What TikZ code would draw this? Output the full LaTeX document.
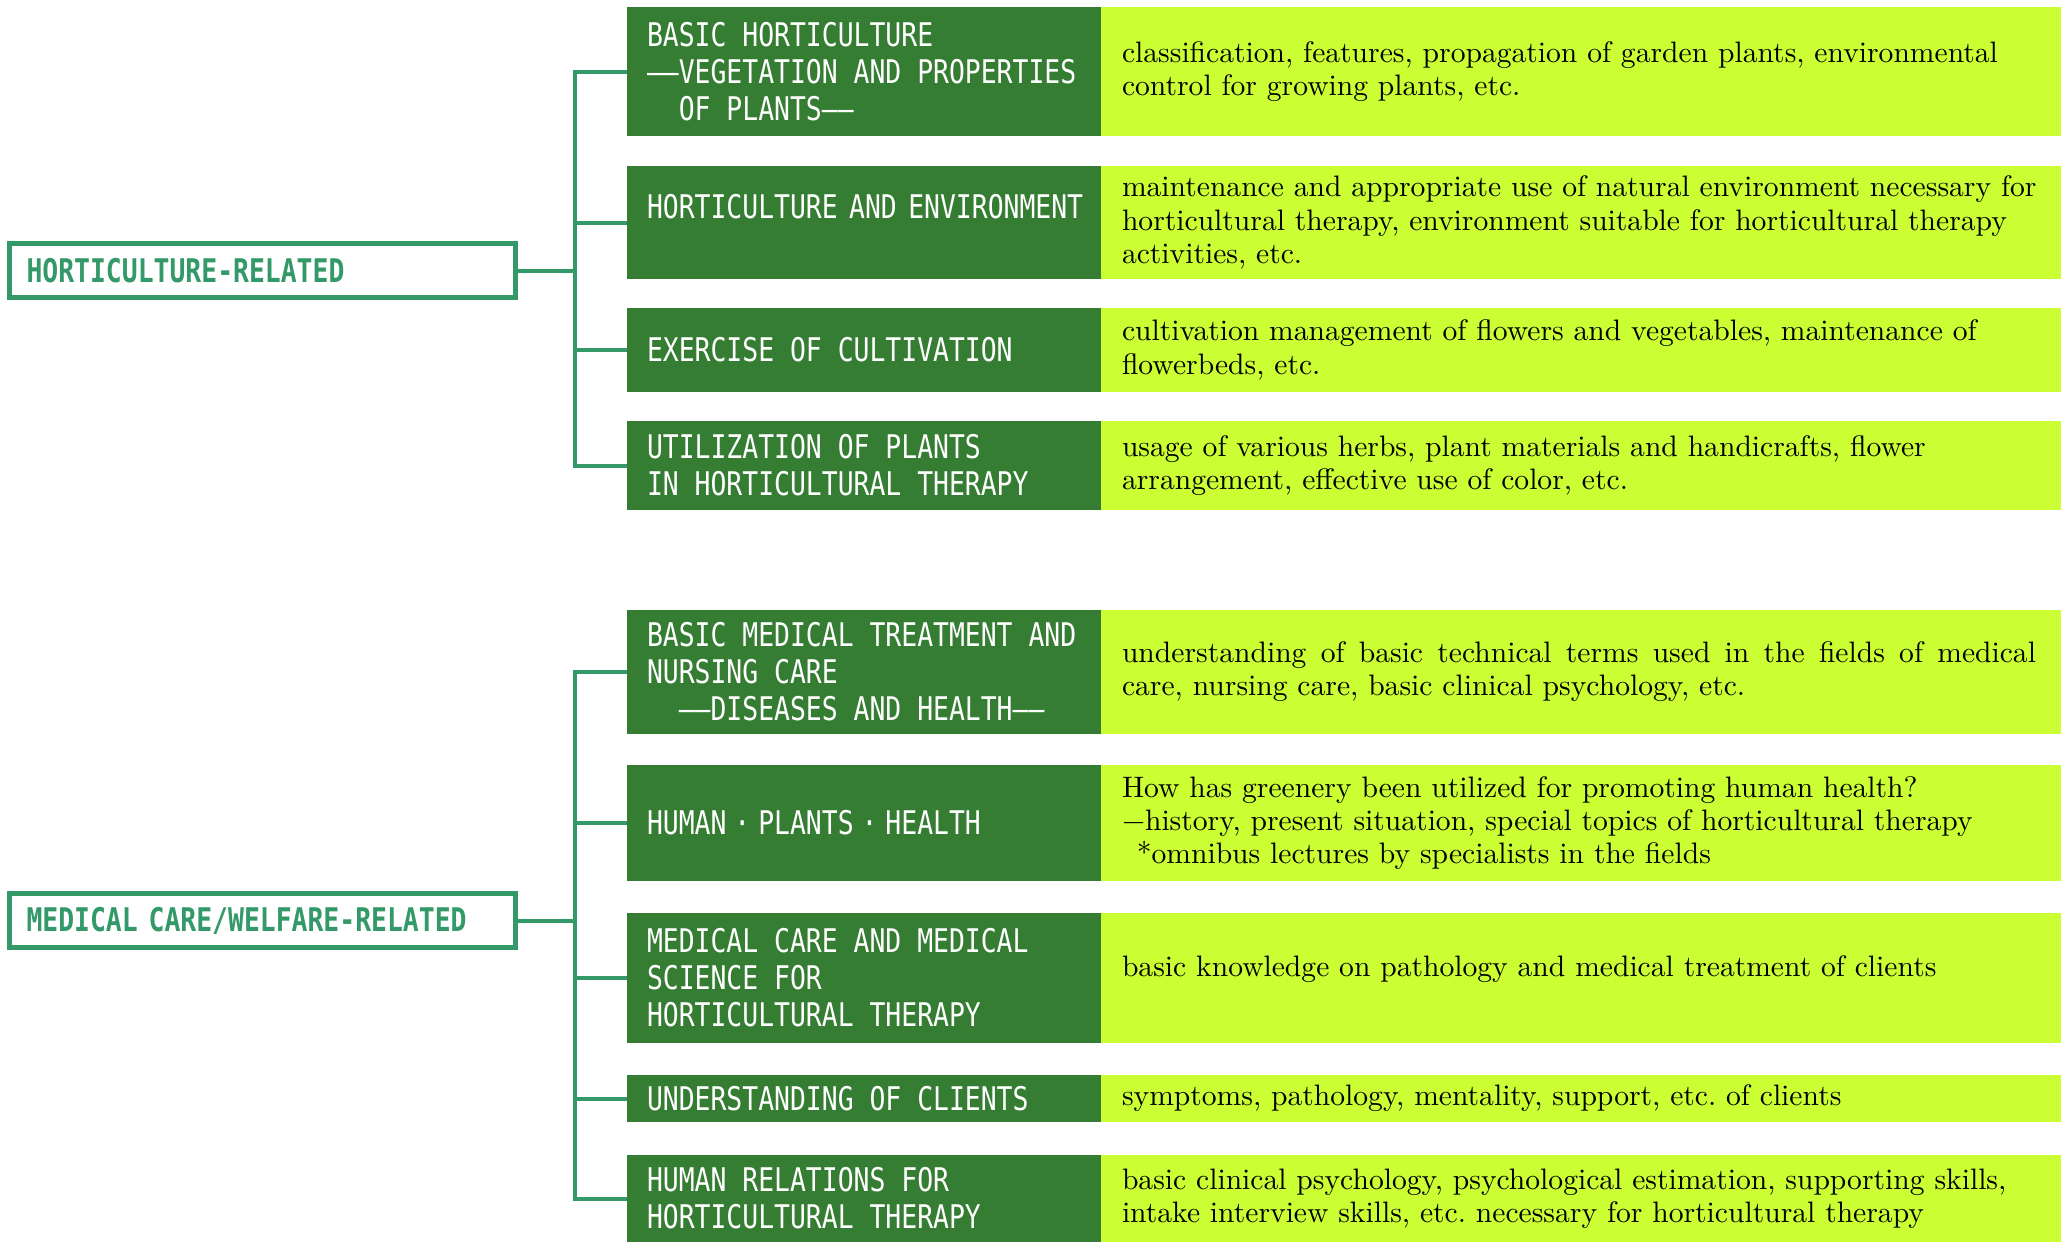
\documentclass[tikz,border=0pt]{standalone}
\usepackage{fontspec}
\newfontfamily\capsfont[FakeStretch=0.81]{DejaVu Sans Mono}
\newfontfamily\bodyfont{lmroman10-regular}[Extension=.otf]
\usetikzlibrary{positioning}
\definecolor{leafgreen}{RGB}{53,125,51}
\definecolor{limegreen}{RGB}{204,255,51}
\definecolor{tealgreen}{RGB}{51,153,104}
\newcommand\katadot{\makebox[2\fontcharwd\font`M]{·}}
\protected\def\fontspaces{\spaceskip=0pt\relax}

\tikzset{
  topicbox/.style={fill=leafgreen, text=white, anchor=north west, outer sep=0pt,
    font=\capsfont\fontsize{16.3}{18.5}\selectfont,
    text width=217pt, inner xsep=10pt, inner ysep=0pt, align=left,
    execute at begin node=\fontspaces},
  detailbox/.style={fill=limegreen, text=black, outer sep=0pt,
    font=\bodyfont\fontsize{14.8}{16.6}\selectfont\frenchspacing,
    text width=459pt, inner xsep=10.5pt, inner ysep=0pt, align=left,
    execute at begin node=\fontspaces},
  groupbox/.style={draw=tealgreen, line width=2.5pt, text=tealgreen,
    font=\capsfont\bfseries\fontsize{16.3}{18.5}\selectfont,
    minimum width=253pt, minimum height=27pt,
    text width=236pt, inner xsep=8.5pt, align=left},
  link/.style={draw=tealgreen, line width=2pt}
}

\begin{document}
\begin{tikzpicture}[x=0.5pt,y=-0.5pt]
  \useasboundingbox (0,0) rectangle (2065,1243);

  % horticulture group
  \node[groupbox] (hort) at (262.5,270.5) {HORTICULTURE-RELATED};
  \node[topicbox, minimum height=64.5pt] (t1) at (627,7)
    {BASIC HORTICULTURE\\——VEGETATION AND PROPERTIES\\\phantom{MM}OF PLANTS——};
  \node[topicbox, minimum height=56.5pt, text depth=16pt] (t2) at (627,166)
    {\mbox{\spaceskip=0.35em HORTICULTURE AND ENVIRONMENT}};
  \node[topicbox, minimum height=42pt] (t3) at (627,308) {EXERCISE OF CULTIVATION};
  \node[topicbox, minimum height=44.5pt] (t4) at (627,421)
    {UTILIZATION OF PLANTS\\IN HORTICULTURAL THERAPY};

  \node[detailbox, minimum height=64.5pt, right=0pt of t1] (d1)
    {classification, features, propagation of garden plants, environmental\\control for growing plants, etc.};
  \node[detailbox, minimum height=56.5pt, right=0pt of t2] (d2)
    {maintenance and appropriate use of natural environment necessary for\\horticultural therapy, environment suitable for horticultural therapy\\activities, etc.};
  \node[detailbox, minimum height=42pt, right=0pt of t3] (d3)
    {cultivation management of flowers and vegetables, maintenance of\\flowerbeds, etc.};
  \node[detailbox, minimum height=44.5pt, right=0pt of t4] (d4)
    {usage of various herbs, plant materials and handicrafts, flower\\arrangement, effective use of color, etc.};

  % medical care group
  \node[groupbox] (med) at (262.5,920.5) {MEDICAL CARE/WELFARE-RELATED};
  \node[topicbox, minimum height=62pt] (t5) at (627,610)
    {BASIC MEDICAL TREATMENT AND\\NURSING CARE\\\phantom{MM}——DISEASES AND HEALTH——};
  \node[topicbox, minimum height=58pt] (t6) at (627,765) {HUMAN\katadot PLANTS\katadot HEALTH};
  \node[topicbox, minimum height=65pt] (t7) at (627,913)
    {MEDICAL CARE AND MEDICAL\\SCIENCE FOR\\HORTICULTURAL THERAPY};
  \node[topicbox, minimum height=23.5pt] (t8) at (627,1075) {UNDERSTANDING OF CLIENTS};
  \node[topicbox, minimum height=43.5pt] (t9) at (627,1155)
    {HUMAN RELATIONS FOR\\HORTICULTURAL THERAPY};

  \node[detailbox, minimum height=62pt, right=0pt of t5] (d5)
    {\hbox to 457pt{understanding of basic technical terms used in the fields of medical}\\care, nursing care, basic clinical psychology, etc.};
  \node[detailbox, minimum height=58pt, right=0pt of t6] (d6)
    {How has greenery been utilized for promoting human health?\\−history, present situation, special topics of horticultural therapy\\\hspace*{0.5em}*omnibus lectures by specialists in the fields};
  \node[detailbox, minimum height=65pt, text depth=12pt, right=0pt of t7] (d7)
    {basic knowledge on pathology and medical treatment of clients};
  \node[detailbox, minimum height=23.5pt, right=0pt of t8] (d8)
    {symptoms, pathology, mentality, support, etc. of clients};
  \node[detailbox, minimum height=43.5pt, right=0pt of t9] (d9)
    {basic clinical psychology, psychological estimation, supporting skills,\\intake interview skills, etc. necessary for horticultural therapy};

  % connectors
  \coordinate (bus) at (575,0);
  \draw[link] (hort.east) -- (hort.east -| bus);
  \draw[link, line cap=rect] (bus |- t1.west) -- (bus |- t4.west);
  \foreach \n in {t1,t2,t3,t4}
    \draw[link] (bus |- \n.west) -- (\n.west);
  \draw[link] (med.east) -- (med.east -| bus);
  \draw[link, line cap=rect] (bus |- t5.west) -- (bus |- t9.west);
  \foreach \n in {t5,t6,t7,t8,t9}
    \draw[link] (bus |- \n.west) -- (\n.west);
\end{tikzpicture}
\end{document}
